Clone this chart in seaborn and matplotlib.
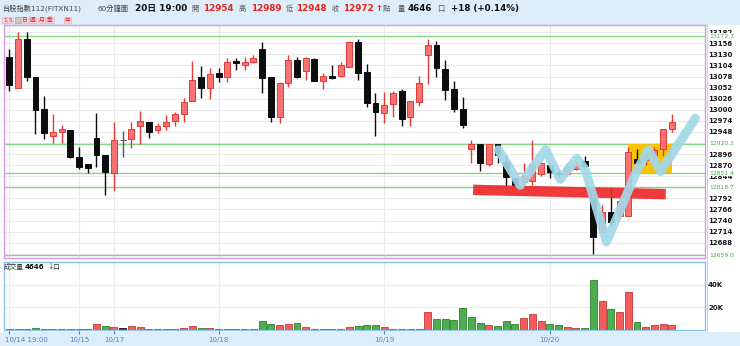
import numpy as np
import pandas as pd
import matplotlib
matplotlib.use("Agg")
import matplotlib.pyplot as plt
import matplotlib.colors as mcolors
from matplotlib.transforms import blended_transform_factory
from matplotlib.patches import Rectangle
import seaborn as sns

# ---------------- data ----------------
opens = [13125, 13052, 13166, 13076, 13001, 12938, 12949, 12953, 12888, 12872,
         12933, 12894, 12852, 12929, 12931, 12963, 12972, 12952, 12963, 12974,
         12989, 13021, 13076, 13050, 13087, 13078, 13115, 13105, 13111, 13142,
         13078, 12982, 13064, 13118, 13092, 13119, 13068, 13079, 13079, 13101,
         13158, 13088, 13015, 12992, 13014, 13044, 12982, 13019, 13129, 13152,
         13096, 13048, 13003, 12908, 12920, 12872, 12919, 12878, 12841, 12830,
         12832, 12850, 12870, 12851, 12850, 12862, 12880, 12816, 12712, 12761,
         12750, 12751, 12885, 12882, 12893, 12907, 12954]
highs = [13143, 13183, 13183, 13076, 13032, 12989, 12964, 12953, 12913, 12872,
         12992, 12894, 12971, 12950, 12972, 12997, 12972, 12968, 12988, 12994,
         13028, 13115, 13103, 13097, 13097, 13121, 13121, 13125, 13129, 13158,
         13078, 13066, 13129, 13123, 13125, 13121, 13086, 13104, 13113, 13161,
         13165, 13107, 13039, 13041, 13045, 13048, 13021, 13079, 13166, 13161,
         13117, 13068, 13031, 12929, 12920, 12919, 12919, 12894, 12841, 12874,
         12928, 12878, 12874, 12859, 12876, 12878, 12892, 12818, 12777, 12816,
         12792, 12913, 12907, 12900, 12913, 12955, 12989]
lows = [13045, 13052, 13068, 12942, 12931, 12921, 12921, 12886, 12860, 12852,
        12866, 12800, 12810, 12890, 12910, 12919, 12933, 12945, 12953, 12962,
        12972, 13021, 13028, 13025, 13066, 13066, 13093, 13093, 13109, 13039,
        12971, 12968, 13054, 13074, 13070, 13067, 13048, 13072, 13078, 13101,
        13071, 13007, 12938, 12968, 12984, 12962, 12963, 13009, 13061, 13076,
        13023, 12994, 12958, 12874, 12857, 12869, 12874, 12820, 12821, 12823,
        12823, 12845, 12839, 12843, 12847, 12858, 12863, 12661, 12710, 12727,
        12745, 12751, 12870, 12870, 12882, 12892, 12948]
closes = [13057, 13165, 13078, 12999, 12945, 12949, 12956, 12890, 12865, 12864,
          12894, 12855, 12929, 12929, 12954, 12974, 12947, 12962, 12971, 12989,
          13019, 13070, 13050, 13084, 13078, 13111, 13109, 13111, 13122, 13075,
          12982, 13064, 13117, 13076, 13121, 13068, 13079, 13075, 13105, 13160,
          13086, 13017, 12994, 13011, 13040, 12978, 13021, 13062, 13152, 13097,
          13046, 13003, 12964, 12920, 12874, 12919, 12894, 12843, 12823, 12845,
          12872, 12874, 12855, 12850, 12865, 12870, 12867, 12702, 12760, 12737,
          12785, 12902, 12874, 12892, 12906, 12954, 12972]
volumes = [900, 900, 1200, 1800, 900, 900, 900, 900, 900, 900,
           5300, 3600, 2700, 1500, 3300, 2400, 900, 900, 900, 900,
           1500, 3600, 1800, 1500, 900, 900, 900, 900, 900, 8000,
           5300, 4100, 5000, 6500, 2700, 1200, 1200, 900, 900, 2400,
           3800, 4100, 4100, 2400, 1200, 1200, 900, 900, 16000, 9500,
           9500, 8900, 19200, 11200, 5900, 4700, 3800, 7700, 5000, 10700,
           14500, 8000, 5300, 4400, 2700, 1800, 1800, 44000, 26000, 18300,
           15700, 34000, 7400, 3000, 4100, 5300, 4646]
prev_close = 13140

date_tick_idx = [0, 8, 12, 24, 43, 62]
date_tick_labels = ["10/14 19:00", "10/15", "10/17", "10/18", "10/19", "10/20"]
grid_ticks = [12662, 12688, 12714, 12740, 12766, 12792, 12818, 12844, 12870,
              12896, 12922, 12948, 12974, 13000, 13026, 13052, 13078, 13104,
              13130, 13156, 13182]
price_ticks = [12688, 12714, 12740, 12766, 12792, 12844, 12870, 12896, 12948,
               12974, 13000, 13026, 13052, 13078, 13104, 13130, 13156, 13182]
price_tick_labels = [str(v) for v in price_ticks]
level_values = [13172.7, 12920.2, 12851.4, 12818.7, 12659.0]
level_labels = ["13172.7", "12920.2", "12851.4", "12818.7", "12659.0"]
vol_ticks = [20000, 40000]
vol_tick_labels = ["20K", "40K"]

# hand-drawn annotations (data coordinates)
blue_x = [56.1, 58.6, 61.5, 63.2, 65.1, 66.1, 68.5, 72.0, 73.3, 74.7, 78.7]
blue_y = [12906, 12823, 12906, 12837, 12886, 12858, 12690, 12858, 12906, 12855, 12980]
red_x = [53.2, 75.3]
red_y = [12812, 12802]
box_x = [71.0, 76.0]
box_y = [12851.4, 12920.2]

# ---------------- style ----------------
sns.set_theme(style="white")
plt.rcParams['font.family'] = ['DejaVu Sans', 'Noto Sans CJK TC']
plt.rcParams['axes.unicode_minus'] = False

W, H = 740, 346
fig = plt.figure(figsize=(W / 100, H / 100), dpi=100, facecolor='#ddeefa')


def fx(px):
    return px / W


def fy(py):
    return 1 - py / H


fig.patches.append(Rectangle((fx(0), fy(332)), 1, fy(25) - fy(332),
                             transform=fig.transFigure, fc='white', ec='none', zorder=-10))
fig.lines.append(plt.Line2D([fx(706.5), fx(706.5)], [fy(332), fy(24)], transform=fig.transFigure,
                            color='#bcdcf2', lw=0.8, zorder=-5))

ax = fig.add_axes([fx(4), fy(258), fx(705) - fx(4), fy(25) - fy(258)])
axv = fig.add_axes([fx(4), fy(330), fx(705) - fx(4), fy(262) - fy(330)])

n = len(opens)
idx = np.arange(n)
XL = (-0.61, 79.8)

# ---------------- price panel ----------------
for g in grid_ticks:
    ax.axhline(g, color='#e9e9e9', lw=0.8, zorder=0.5)
for d in date_tick_idx:
    ax.axvline(d, color='#e9e9e9', lw=0.8, zorder=0.5)
for lv in level_values:
    ax.axhline(lv, color='#86d486', lw=1.0, zorder=2)

ax.add_patch(Rectangle((box_x[0], box_y[0]), box_x[1] - box_x[0], box_y[1] - box_y[0],
                       fc='#f7c400', ec='none', zorder=2.2))

for i in idx:
    o, h, l, c = opens[i], highs[i], lows[i], closes[i]
    if c > o:
        fill, edge = '#f77373', '#e53935'
    elif c < o:
        fill, edge = '#0d0d0d', '#0d0d0d'
    else:
        fill, edge = '#555555', '#555555'
    ax.vlines(i, l, h, color=edge, lw=1.0, zorder=3)
    ax.bar(i, max(abs(c - o), 1.0), bottom=min(o, c), width=0.68,
           color=fill, edgecolor=edge, lw=0.7, zorder=4)

ax.plot(red_x, red_y, color='#ee2a2a', lw=7.5, alpha=0.92, solid_capstyle='butt', zorder=5)
ax.plot(blue_x, blue_y, color='#a3d8e8', lw=6.5, alpha=0.92,
        solid_capstyle='round', solid_joinstyle='round', zorder=6)

ax.set_xlim(*XL)
ax.set_ylim(12652.1, 13199)
ax.set_yticks(price_ticks)
ax.set_yticklabels(price_tick_labels)
ax.yaxis.tick_right()
ax.tick_params(axis='y', length=0, pad=2.2, labelsize=5, labelcolor='#1a1a1a')
for t in ax.get_yticklabels():
    t.set_fontweight('bold')
ax.set_xticks([])
ax.grid(False)
for s in ax.spines.values():
    s.set_color('#d79ae0')
    s.set_linewidth(1.0)

tr = blended_transform_factory(ax.transAxes, ax.transData)
for lv, lab in zip(level_values, level_labels):
    ax.text(1.006, lv, lab, transform=tr, color='#3cb043', fontsize=4.3,
            va='center', ha='left', clip_on=False, zorder=10,
            bbox=dict(fc='white', ec='none', pad=0.4))

# ---------------- volume panel ----------------
prevs = [prev_close] + closes[:-1]
vol_dir = ['up' if c > p else ('down' if c < p else 'flat') for c, p in zip(closes, prevs)]
df = pd.DataFrame({'idx': idx, 'vol': volumes, 'dir': vol_dir})
pal = {'up': '#f45c5c', 'down': '#4cae4f', 'flat': '#333333'}
sns.barplot(data=df, x='idx', y='vol', hue='dir', palette=pal, native_scale=True,
            dodge=False, width=0.8, legend=False, saturation=1, ax=axv, linewidth=0.7)
for p in axv.patches:
    fc = np.array(mcolors.to_rgb(p.get_facecolor()))
    p.set_edgecolor(tuple(fc * 0.8))

axv.set_xlim(*XL)
axv.set_ylim(0, 60400)
axv.set_xlabel('')
axv.set_ylabel('')
axv.set_yticks(vol_ticks)
axv.set_yticklabels(vol_tick_labels)
axv.yaxis.tick_right()
axv.tick_params(axis='y', length=0, pad=2.2, labelsize=5, labelcolor='#1a1a1a')
for t in axv.get_yticklabels():
    t.set_fontweight('bold')
axv.set_xticks(date_tick_idx)
axv.set_xticklabels([])
axv.tick_params(axis='x', length=3, width=0.8, color='#4a86c5', direction='out', bottom=True)
axv.grid(True, axis='both', color='#ececec', lw=0.8)
axv.set_axisbelow(True)
for s in axv.spines.values():
    s.set_color('#8cc0e6')
    s.set_linewidth(1.0)

trx = blended_transform_factory(axv.transData, axv.transAxes)
for k, (ti, tl) in enumerate(zip(date_tick_idx, date_tick_labels)):
    ha = 'left' if k == 0 else 'center'
    xx = ti - 0.5 if k == 0 else ti
    axv.text(xx, -0.15, tl, transform=trx, ha=ha, va='center', fontsize=5,
             color='#4a86c5', clip_on=False)

axv.text(0.0, 0.93, '成交量', transform=axv.transAxes, fontsize=4.8,
         color='#333333', va='center', ha='left')
axv.text(0.029, 0.93, f'{volumes[-1]}', transform=axv.transAxes, fontsize=5,
         fontweight='bold', color='#111111', va='center', ha='left')
axv.text(0.062, 0.93, '↓', transform=axv.transAxes, fontsize=5.5,
         fontweight='bold', color='#2e9e2e', va='center', ha='left')
axv.text(0.069, 0.93, '口', transform=axv.transAxes, fontsize=4.8,
         color='#333333', va='center', ha='left')

# ---------------- header ----------------
yh = fy(8.5)
chg = closes[-1] - closes[-2]
pct = chg / closes[-2] * 100
fig.text(fx(2), yh, '台股指數112(FITXN11)', fontsize=5.2, color='#444444', va='center')
fig.text(fx(97), yh, '60分鐘圖', fontsize=5.2, color='#444444', va='center')
fig.text(fx(135), yh, '20日 19:00', fontsize=6.4, fontweight='bold', color='#111111', va='center')
items = [('開', 191, opens[-1], 203), ('高', 239, highs[-1], 251),
         ('低', 286, lows[-1], 296), ('收', 332, closes[-1], 343)]
for lab, lx, val, vx in items:
    fig.text(fx(lx), yh, lab, fontsize=5.2, color='#555555', va='center')
    fig.text(fx(vx), yh, f'{val}', fontsize=6.3, fontweight='bold', color='#e8251c', va='center')
fig.text(fx(375), yh, '↑', fontsize=6.0, fontweight='bold', color='#e8251c', va='center')
fig.text(fx(383), yh, '點', fontsize=5.2, color='#555555', va='center')
fig.text(fx(398), yh, '量', fontsize=5.2, color='#555555', va='center')
fig.text(fx(408), yh, f'{volumes[-1]}', fontsize=6.3, fontweight='bold', color='#111111', va='center')
fig.text(fx(437), yh, '口', fontsize=5.2, color='#555555', va='center')
fig.text(fx(451), yh, f'+{chg} (+{pct:.2f}%)', fontsize=6.3, fontweight='bold',
         color='#111111', va='center')

# period buttons
btns = [('1', 5), ('5', 10), ('', 18), ('日', 24.5), ('週', 32.5), ('月', 41.5), ('季', 50), ('年', 67.5)]
for lab, bx in btns:
    if lab == '':
        fig.text(fx(bx), fy(20), '  ', fontsize=4, va='center', ha='center',
                 bbox=dict(fc='#c8c8c8', ec='#999999', lw=0.4, pad=0.6))
    else:
        fig.text(fx(bx), fy(20), lab, fontsize=4.2, color='#d8262d', va='center', ha='center',
                 bbox=dict(fc='#f8d6dc', ec='#e8a9b4', lw=0.4, pad=0.5))

fig.savefig('out.png', dpi=100, facecolor=fig.get_facecolor())
